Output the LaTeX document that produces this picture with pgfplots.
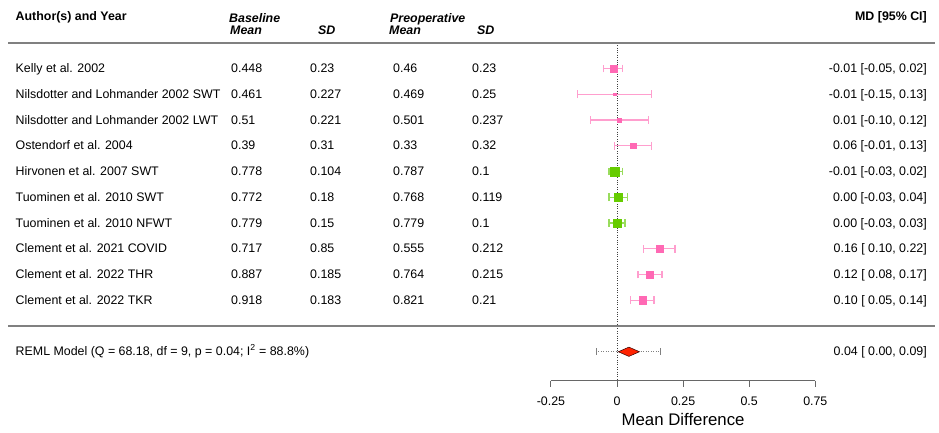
\documentclass[border=0pt]{standalone}
\usepackage{pgfplots}
\pgfplotsset{compat=1.18}
\usepackage{pgfplotstable}
\usepackage{fontspec}
\setmainfont{Liberation Sans}
\definecolor{pinkSq}{HTML}{FF69B4}
\definecolor{pinkCI}{HTML}{FF9ECE}
\definecolor{greenSq}{HTML}{66CC00}
\definecolor{greenCI}{HTML}{99DC5C}
\definecolor{diam}{HTML}{FF2200}
\definecolor{rule}{HTML}{808080}

% row: 10 = first study ... 1 = last study; md, lower CI, upper CI, half side of square (px)
\pgfplotstableread{
row md lo hi sz
10 -0.012 -0.05 0.02 3.75
9 -0.008 -0.15 0.13 1.25
8 0.009 -0.10 0.12 2.0
7 0.060 -0.01 0.13 2.9
3 0.162 0.10 0.22 3.4
2 0.123 0.08 0.17 3.8
1 0.097 0.05 0.14 3.8
}\pinkdata
\pgfplotstableread{
row md lo hi sz
6 -0.009 -0.03 0.02 4.3
5 0.004 -0.03 0.04 4.0
4 0.000 -0.03 0.03 3.8
}\greendata

\begin{document}
\fontsize{12.4pt}{15pt}\selectfont
\begin{tikzpicture}
\path[use as bounding box] (0,0) rectangle (939pt,432pt);
\begin{axis}[at={(0pt,0pt)}, anchor=south west, scale only axis,
  width=939pt, height=432pt,
  xmin=-2.33359, xmax=1.21785, ymin=-4.11650, ymax=12.66019,
  hide axis, clip=false]
% reference line
\addplot[black!75, line width=0.8pt, dash pattern=on 0.8pt off 1.6pt] coordinates {(0,11) (0,-2.124)};
% CIs pink
\addplot[pinkCI, only marks, mark=*, mark size=0.01pt, forget plot,
  error bars/.cd, x dir=both, x explicit, error mark=|,
  error bar style={pinkCI, solid, line width=1.4pt},
  error mark options={pinkCI, mark size=3.8pt, line width=1.4pt}]
  table[x=md, y=row, x error plus expr=\thisrow{hi}-\thisrow{md}, x error minus expr=\thisrow{md}-\thisrow{lo}] {\pinkdata};
% CIs green
\addplot[greenCI, only marks, mark=*, mark size=0.01pt, forget plot,
  error bars/.cd, x dir=both, x explicit, error mark=|,
  error bar style={greenCI, solid, line width=1.4pt},
  error mark options={greenCI, mark size=3.8pt, line width=1.4pt}]
  table[x=md, y=row, x error plus expr=\thisrow{hi}-\thisrow{md}, x error minus expr=\thisrow{md}-\thisrow{lo}] {\greendata};
% squares
\addplot[scatter, only marks, mark=square*,
  scatter/use mapped color={draw=pinkSq, fill=pinkSq},
  visualization depends on={\thisrow{sz} \as \msize},
  scatter/@pre marker code/.append style={/tikz/mark size=\msize pt}]
  table[x=md, y=row] {\pinkdata};
\addplot[scatter, only marks, mark=square*,
  scatter/use mapped color={draw=greenSq, fill=greenSq},
  visualization depends on={\thisrow{sz} \as \msize},
  scatter/@pre marker code/.append style={/tikz/mark size=\msize pt}]
  table[x=md, y=row] {\greendata};
% prediction interval
\addplot[rule, line width=0.7pt, dash pattern=on 1pt off 1.5pt] coordinates {(-0.08,-1) (0.165,-1)};
\addplot[rule, only marks, mark=|, mark size=3.5pt, mark options={solid, line width=0.7pt}] coordinates {(-0.08,-1) (0.165,-1)};
% summary diamond
\addplot[fill=diam, draw=black!80!red, line width=0.5pt] coordinates {(0.005,-1) (0.045,-0.82) (0.085,-1) (0.045,-1.18)} -- cycle;
% x axis
\draw[rule!80!black, line width=1pt] (-0.25,-2.124) -- (0.75,-2.124);
\draw[rule!80!black, line width=1pt] (-0.25,-2.124) -- (-0.25,-2.381);
\draw[rule!80!black, line width=1pt] (0,-2.124) -- (0,-2.381);
\draw[rule!80!black, line width=1pt] (0.25,-2.124) -- (0.25,-2.381);
\draw[rule!80!black, line width=1pt] (0.5,-2.124) -- (0.5,-2.381);
\draw[rule!80!black, line width=1pt] (0.75,-2.124) -- (0.75,-2.381);
\node[font=\fontsize{12.4pt}{14pt}\selectfont] at (-0.25,-2.913) {-0.25};
\node[font=\fontsize{12.4pt}{14pt}\selectfont] at (0,-2.913) {0};
\node[font=\fontsize{12.4pt}{14pt}\selectfont] at (0.25,-2.913) {0.25};
\node[font=\fontsize{12.4pt}{14pt}\selectfont] at (0.5,-2.913) {0.5};
\node[font=\fontsize{12.4pt}{14pt}\selectfont] at (0.75,-2.913) {0.75};
\node[anchor=base, font=\fontsize{16.8pt}{19pt}\selectfont] at (0.25,-3.845) {Mean Difference};
\end{axis}

\begin{scope}[x=1pt, y=-1pt, shift={(0pt,432pt)}]
% rules
\draw[rule, line width=1.5pt] (8,43) -- (935,43);
\draw[rule, line width=1.5pt] (8,326) -- (935,326);
% headers
\node[anchor=base west, inner sep=0pt, font=\bfseries] at (15.5,20.5) {Author(s) and Year};
\node[anchor=base west, inner sep=0pt, font=\bfseries\itshape] at (229,22.5) {Baseline};
\node[anchor=base west, inner sep=0pt, font=\bfseries\itshape] at (230,35) {Mean};
\node[anchor=base west, inner sep=0pt, font=\bfseries\itshape] at (318,35) {SD};
\node[anchor=base west, inner sep=0pt, font=\bfseries\itshape] at (390,22.5) {Preoperative};
\node[anchor=base west, inner sep=0pt, font=\bfseries\itshape] at (389,35) {Mean};
\node[anchor=base west, inner sep=0pt, font=\bfseries\itshape] at (477,35) {SD};
\node[anchor=base east, inner sep=0pt, font=\bfseries] at (927,20.5) {MD [95\% CI]};
% study rows
\foreach \yy/\nm/\cbm/\cbs/\cpm/\cps/\cci in {
  68.5/Kelly et al. 2002/0.448/0.23/0.46/0.23/{-0.01 [-0.05, 0.02]},
  94.25/Nilsdotter and Lohmander 2002 SWT/0.461/0.227/0.469/0.25/{-0.01 [-0.15, 0.13]},
  120/Nilsdotter and Lohmander 2002 LWT/0.51/0.221/0.501/0.237/{0.01 [-0.10, 0.12]},
  145.75/Ostendorf et al. 2004/0.39/0.31/0.33/0.32/{0.06 [-0.01, 0.13]},
  171.5/Hirvonen et al. 2007 SWT/0.778/0.104/0.787/0.1/{-0.01 [-0.03, 0.02]},
  197.25/Tuominen et al. 2010 SWT/0.772/0.18/0.768/0.119/{0.00 [-0.03, 0.04]},
  223/Tuominen et al. 2010 NFWT/0.779/0.15/0.779/0.1/{0.00 [-0.03, 0.03]},
  248.75/Clement et al. 2021 COVID/0.717/0.85/0.555/0.212/{0.16 [ 0.10, 0.22]},
  274.5/Clement et al. 2022 THR/0.887/0.185/0.764/0.215/{0.12 [ 0.08, 0.17]},
  300.25/Clement et al. 2022 TKR/0.918/0.183/0.821/0.21/{0.10 [ 0.05, 0.14]}} {
  \node[anchor=base west, inner sep=0pt] at (15.5,\yy+4) {\nm};
  \node[anchor=base west, inner sep=0pt] at (231,\yy+4) {\cbm};
  \node[anchor=base west, inner sep=0pt] at (310,\yy+4) {\cbs};
  \node[anchor=base west, inner sep=0pt] at (393,\yy+4) {\cpm};
  \node[anchor=base west, inner sep=0pt] at (472,\yy+4) {\cps};
  \node[anchor=base east, inner sep=0pt] at (927,\yy+4) {\cci};
}
% model row
\node[anchor=base west, inner sep=0pt] at (15.5,355) {REML Model (Q = 68.18, df = 9, p = 0.04; I\textsuperscript{2} = 88.8\%)};
\node[anchor=base east, inner sep=0pt] at (927,355) {0.04 [ 0.00, 0.09]};
\end{scope}
\end{tikzpicture}
\end{document}
